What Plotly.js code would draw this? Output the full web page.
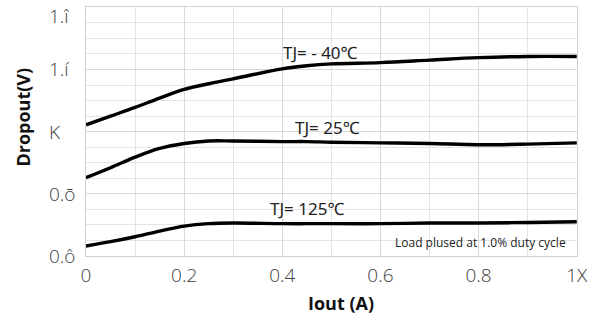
<!DOCTYPE html>
<html>
<head>
<meta charset="utf-8">
<script src="https://cdn.plot.ly/plotly-3.0.1.min.js"></script>
<style>html,body{margin:0;padding:0;background:#fff;}#chart{width:597px;height:320px;}</style>
</head>
<body>
<div id="chart"></div>
<script>
const iout = [0, 0.05, 0.1, 0.15, 0.2, 0.25, 0.3, 0.4, 0.45, 0.5, 0.6, 0.7, 0.8, 0.9, 1.0];
const dropM40 = [1.011, 1.025, 1.039, 1.054, 1.068, 1.077, 1.085, 1.101, 1.106, 1.109, 1.111, 1.115, 1.119, 1.121, 1.121];
const drop25  = [0.926, 0.942, 0.959, 0.973, 0.981, 0.985, 0.985, 0.984, 0.984, 0.983, 0.982, 0.981, 0.979, 0.980, 0.982];
const drop125 = [0.816, 0.823, 0.831, 0.840, 0.848, 0.852, 0.853, 0.852, 0.852, 0.852, 0.852, 0.853, 0.853, 0.854, 0.855];
const yTickVals = [0.8, 0.9, 1.0, 1.1, 1.2];
const yTickText = ['0.ô', '0.ō', 'K', '1.í', '1.î'];
const xTickVals = [0, 0.2, 0.4, 0.6, 0.8, 1.0];
const xTickText = ['0', '0.2', '0.4', '0.6', '0.8', '1X'];
const seriesNames = ['TJ= - 40℃', 'TJ= 25℃', 'TJ= 125℃'];

const line = {color: '#000', width: 3.4, shape: 'spline', smoothing: 1};
const traces = [dropM40, drop25, drop125].map((y, i) => ({
  x: iout, y: y, type: 'scatter', mode: 'lines', name: seriesNames[i], line: line, hoverinfo: 'skip'
}));

const tickFont = {family: 'Open Sans, sans-serif', size: 19, color: '#404040', weight: 300};
const labelFont = {family: 'Noto Sans, Open Sans, sans-serif', size: 17, color: '#222'};
const titleFont = {family: 'Open Sans, sans-serif', size: 18, color: '#111'};

const yLabelAnn = yTickVals.map((v, i) => ({
  x: 0, xref: 'paper', xanchor: 'left', xshift: -39,
  y: v, yref: 'y', yanchor: i === yTickVals.length - 1 ? 'top' : 'middle',
  yshift: i === yTickVals.length - 1 ? 6 : 0,
  text: yTickText[i], showarrow: false, font: tickFont
}));

const layout = {
  width: 597, height: 320,
  margin: {l: 86, r: 20, t: 7, b: 64},
  paper_bgcolor: '#fff', plot_bgcolor: '#fff',
  showlegend: false,
  xaxis: {
    range: [0, 1.0005], tickvals: xTickVals, ticktext: xTickText,
    showgrid: true, gridcolor: '#d9d9d9', gridwidth: 1,
    minor: {dtick: 0.1, showgrid: true, gridcolor: '#e4e4e4', gridwidth: 1},
    showline: true, linecolor: '#d0d0d0', mirror: true, zeroline: false,
    ticks: '', ticklabeloverflow: 'allow', ticklabelstandoff: 2,
    tickfont: tickFont
  },
  yaxis: {
    range: [0.8, 1.2005], tickvals: yTickVals, showticklabels: false,
    showgrid: true, gridcolor: '#d9d9d9', gridwidth: 1,
    minor: {dtick: 0.025, showgrid: true, gridcolor: '#e4e4e4', gridwidth: 1},
    showline: true, linecolor: '#d0d0d0', mirror: true, zeroline: false,
    ticks: ''
  },
  annotations: yLabelAnn.concat([
    {x: 0, xref: 'paper', xanchor: 'center', xshift: -63, y: 1.0226, yref: 'y', yanchor: 'middle',
     text: '<b>Dropout(V)</b>', textangle: -90, showarrow: false, font: titleFont},
    {x: 0.52, xref: 'x', xanchor: 'center', y: 0, yref: 'paper', yanchor: 'middle', yshift: -47,
     text: '<b>Iout (A)</b>', showarrow: false, font: titleFont},
    {x: 0.477, y: 1.127, xref: 'x', yref: 'y', text: seriesNames[0], showarrow: false, font: labelFont},
    {x: 0.493, y: 1.006, xref: 'x', yref: 'y', text: seriesNames[1], showarrow: false, font: labelFont},
    {x: 0.451, y: 0.876, xref: 'x', yref: 'y', text: seriesNames[2], showarrow: false, font: labelFont},
    {x: 0.982, y: 0.821, xref: 'x', yref: 'y', xanchor: 'right', text: 'Load plused at 1.0% duty cycle', showarrow: false,
     font: {family: 'Open Sans, sans-serif', size: 12, color: '#222'}}
  ])
};
Plotly.newPlot('chart', traces, layout, {displayModeBar: false, staticPlot: true});
</script>
</body>
</html>
